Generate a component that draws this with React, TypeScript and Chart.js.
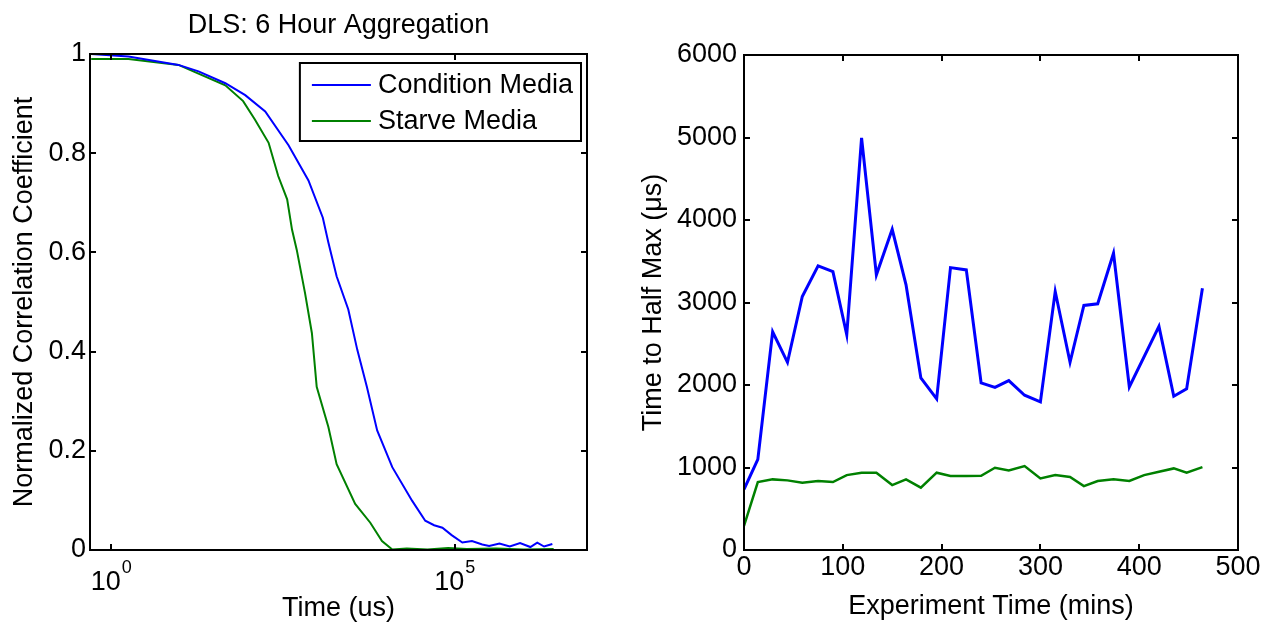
import React, { useEffect, useRef } from 'react';
import { Chart, registerables } from 'chart.js';

Chart.register(...registerables);

const FONT = '"Liberation Sans", Arial, Helvetica, sans-serif';

// ---------- Left panel: DLS correlation curves ----------
const chartTitle = 'DLS: 6 Hour Aggregation';
const seriesNames = ['Condition Media', 'Starve Media'];
const seriesColors = ['#0000ff', '#008000'];

const condTimesUs = [0.51, 1.78, 9.5, 18.6, 45.7, 89, 174, 380, 741, 1200, 1445, 1905, 2818, 3802, 5248, 7413, 12300, 24000, 37150, 50000, 66000, 90000, 128800, 177800, 251200, 316200, 446700, 631000, 891300, 1259000, 1585000, 1995000, 2630000];
const condCorr = [1.0, 0.995, 0.978, 0.965, 0.941, 0.917, 0.884, 0.816, 0.745, 0.67, 0.62, 0.552, 0.485, 0.404, 0.329, 0.241, 0.167, 0.099, 0.059, 0.05, 0.045, 0.03, 0.015, 0.018, 0.011, 0.008, 0.013, 0.007, 0.014, 0.006, 0.015, 0.007, 0.012];

const starveTimesUs = [0.51, 1.78, 9.5, 45.7, 83, 123, 195, 269, 363, 427, 501, 661, 832, 977, 1445, 1905, 3548, 5888, 8710, 12300, 20000, 40000, 80000, 150000, 400000, 1000000, 2750000];
const starveCorr = [0.99, 0.99, 0.978, 0.937, 0.905, 0.868, 0.821, 0.754, 0.707, 0.646, 0.605, 0.518, 0.437, 0.329, 0.248, 0.173, 0.093, 0.055, 0.018, 0.001, 0.003, 0.001, 0.004, 0.002, 0.003, 0.001, 0.002];

const leftXMin = 0.49;
const leftXMax = 8.4e6;
const leftXTickExponents = [0, 5];
const leftYTicks = [0, 0.2, 0.4, 0.6, 0.8, 1];
const leftXLabel = 'Time (us)';
const leftYLabel = 'Normalized Correlation Coefficient';

// ---------- Right panel: time to half max ----------
const expTimeMins = [0, 14, 29, 44, 59, 75, 90, 104, 119, 134, 150, 164, 179, 195, 209, 225, 240, 254, 268, 284, 300, 315, 330, 344, 358, 374, 390, 405, 420, 435, 448, 464];
const condHalfMax = [735, 1098, 2645, 2275, 3073, 3444, 3375, 2609, 4995, 3335, 3887, 3214, 2086, 1832, 3423, 3395, 2025, 1972, 2053, 1876, 1795, 3133, 2275, 2964, 2984, 3597, 1977, null, 2710, 1864, 1953, 3174];
const starveHalfMax = [291, 824, 856, 844, 816, 836, 824, 908, 937, 937, 787, 856, 756, 937, 896, 896, 900, 997, 965, 1017, 868, 908, 884, 775, 836, 856, 836, 908, 949, 989, 937, 1005];

const rightXTicks = [0, 100, 200, 300, 400, 500];
const rightYTicks = [0, 1000, 2000, 3000, 4000, 5000, 6000];
const rightXLabel = 'Experiment Time (mins)';
const rightYLabel = 'Time to Half Max (\u03bcs)';

const toXY = (xs: number[], ys: (number | null)[]) => xs.map((x, i) => ({ x, y: ys[i] }));

const FS = 27;

const framePlugin = {
  id: 'matlabFrame',
  afterDatasetsDraw(chart: any, _args: any, opts: any) {
    const { ctx } = chart;
    const { left, right, top, bottom } = chart.chartArea;
    const xs = chart.scales.x;
    const ys = chart.scales.y;
    ctx.save();
    ctx.strokeStyle = '#000';
    ctx.lineWidth = 2;
    const tl = 6;
    ctx.beginPath();
    xs.ticks.forEach((t: any) => {
      const p = Math.round(xs.getPixelForValue(t.value));
      ctx.moveTo(p, bottom);
      ctx.lineTo(p, bottom - tl);
      ctx.moveTo(p, top);
      ctx.lineTo(p, top + tl);
    });
    ys.ticks.forEach((t: any) => {
      const p = Math.round(ys.getPixelForValue(t.value));
      ctx.moveTo(left, p);
      ctx.lineTo(left + tl, p);
      ctx.moveTo(right, p);
      ctx.lineTo(right - tl, p);
    });
    ctx.stroke();
    ctx.strokeRect(left, top, right - left, bottom - top);

    ctx.fillStyle = '#000';
    if (opts.title) {
      ctx.font = `${FS}px ${FONT}`;
      ctx.textAlign = 'center';
      ctx.textBaseline = 'alphabetic';
      ctx.fillText(opts.title, (left + right) / 2, top - 21);
    }

    if (opts.expTicks) {
      opts.expTicks.forEach((e: number) => {
        const px = xs.getPixelForValue(Math.pow(10, e));
        const base = '10';
        const sup = String(e);
        ctx.font = `${FS}px ${FONT}`;
        const wb = ctx.measureText(base).width;
        ctx.font = `18px ${FONT}`;
        const ws = ctx.measureText(sup).width;
        const x0 = px - (wb + 1 + ws) / 2;
        ctx.textAlign = 'left';
        ctx.textBaseline = 'alphabetic';
        ctx.font = `${FS}px ${FONT}`;
        ctx.fillText(base, x0, bottom + 40);
        ctx.font = `18px ${FONT}`;
        ctx.fillText(sup, x0 + wb + 1, bottom + 23);
      });
    }

    if (opts.legend) {
      const ds = chart.data.datasets;
      ctx.font = `${FS}px ${FONT}`;
      const maxW = Math.max(...ds.map((d: any) => ctx.measureText(d.label).width));
      const padL = 12, lineLen = 59, gap = 7, padR = 8, rowH = 36;
      const w = padL + lineLen + gap + maxW + padR;
      const h = 78;
      const bx = right - 6 - w;
      const by = top + 9;
      ctx.fillStyle = '#fff';
      ctx.fillRect(bx, by, w, h);
      ctx.lineWidth = 2;
      ctx.strokeStyle = '#000';
      ctx.strokeRect(bx, by, w, h);
      ds.forEach((d: any, i: number) => {
        const cy = by + 22 + i * rowH;
        ctx.strokeStyle = d.borderColor;
        ctx.lineWidth = 2;
        ctx.beginPath();
        ctx.moveTo(bx + padL, cy);
        ctx.lineTo(bx + padL + lineLen, cy);
        ctx.stroke();
        ctx.fillStyle = '#000';
        ctx.textAlign = 'left';
        ctx.textBaseline = 'middle';
        ctx.fillText(d.label, bx + padL + lineLen + gap, cy + 1);
      });
    }
    ctx.restore();
  },
};

function useChart(ref: React.RefObject<HTMLCanvasElement>, makeConfig: () => any) {
  useEffect(() => {
    if (!ref.current) return;
    const chart = new Chart(ref.current, makeConfig());
    return () => chart.destroy();
  }, []);
}

const tickFont = { family: FONT, size: FS, lineHeight: 1 };
const labelFont = { family: FONT, size: FS };
const noGrid = { display: false, drawTicks: false };

function leftConfig() {
  return {
    type: 'line',
    data: {
      datasets: [
        { label: seriesNames[0], data: toXY(condTimesUs, condCorr), borderColor: seriesColors[0], borderWidth: 2, pointRadius: 0, tension: 0 },
        { label: seriesNames[1], data: toXY(starveTimesUs, starveCorr), borderColor: seriesColors[1], borderWidth: 2, pointRadius: 0, tension: 0 },
      ],
    },
    options: {
      responsive: false,
      animation: false,
      devicePixelRatio: 1,
      layout: { padding: { top: 54, right: 33, left: 0, bottom: 0 } },
      plugins: {
        legend: { display: false },
        tooltip: { enabled: false },
        matlabFrame: { title: chartTitle, legend: true, expTicks: leftXTickExponents },
      },
      scales: {
        x: {
          type: 'logarithmic',
          min: leftXMin,
          max: leftXMax,
          grid: noGrid,
          border: { display: false },
          afterBuildTicks: (s: any) => { s.ticks = leftXTickExponents.map((e) => ({ value: Math.pow(10, e) })); },
          ticks: { display: false },
          afterFit: (s: any) => { s.height = 78; },
          title: { display: true, text: leftXLabel, color: '#000', font: labelFont, padding: { top: 0, bottom: 3 } },
        },
        y: {
          type: 'linear',
          min: 0,
          max: 1,
          grid: noGrid,
          border: { display: false },
          afterBuildTicks: (s: any) => { s.ticks = leftYTicks.map((v) => ({ value: v })); },
          ticks: { color: '#000', font: tickFont, padding: 4, callback: (v: any) => String(v) },
          afterFit: (s: any) => { s.width = 90; },
          title: { display: true, text: leftYLabel, color: '#000', font: labelFont, padding: { top: 8, bottom: 0 } },
        },
      },
    },
    plugins: [framePlugin],
  };
}

function rightConfig() {
  return {
    type: 'line',
    data: {
      datasets: [
        { label: seriesNames[0], data: toXY(expTimeMins, condHalfMax), borderColor: seriesColors[0], borderWidth: 3, pointRadius: 0, tension: 0, spanGaps: true },
        { label: seriesNames[1], data: toXY(expTimeMins, starveHalfMax), borderColor: seriesColors[1], borderWidth: 2.5, pointRadius: 0, tension: 0 },
      ],
    },
    options: {
      responsive: false,
      animation: false,
      devicePixelRatio: 1,
      layout: { padding: { top: 55, right: 28, left: 0, bottom: 0 } },
      plugins: {
        legend: { display: false },
        tooltip: { enabled: false },
        matlabFrame: {},
      },
      scales: {
        x: {
          type: 'linear',
          min: 0,
          max: 500,
          grid: noGrid,
          border: { display: false },
          afterBuildTicks: (s: any) => { s.ticks = rightXTicks.map((v) => ({ value: v })); },
          ticks: { color: '#000', font: tickFont, padding: 4, maxRotation: 0, autoSkip: false, callback: (v: any) => String(v) },
          afterFit: (s: any) => { s.height = 78; },
          title: { display: true, text: rightXLabel, color: '#000', font: labelFont, padding: { top: 0, bottom: 5 } },
        },
        y: {
          type: 'linear',
          min: 0,
          max: 6000,
          grid: noGrid,
          border: { display: false },
          afterBuildTicks: (s: any) => { s.ticks = rightYTicks.map((v) => ({ value: v })); },
          ticks: { color: '#000', font: tickFont, padding: 7, callback: (v: any) => String(v) },
          afterFit: (s: any) => { s.width = 124; },
          title: { display: true, text: rightYLabel, color: '#000', font: labelFont, padding: { top: 17, bottom: 0 } },
        },
      },
    },
    plugins: [framePlugin],
  };
}

export default function App() {
  const leftRef = useRef<HTMLCanvasElement>(null);
  const rightRef = useRef<HTMLCanvasElement>(null);
  useChart(leftRef, leftConfig);
  useChart(rightRef, rightConfig);
  return (
    <div style={{ position: 'absolute', left: 0, top: 0, width: 1266, height: 628, background: '#fff', overflow: 'hidden' }}>
      <canvas ref={leftRef} width={620} height={628} style={{ position: 'absolute', left: 0, top: 0, width: 620, height: 628 }} />
      <canvas ref={rightRef} width={646} height={628} style={{ position: 'absolute', left: 620, top: 0, width: 646, height: 628 }} />
    </div>
  );
}
